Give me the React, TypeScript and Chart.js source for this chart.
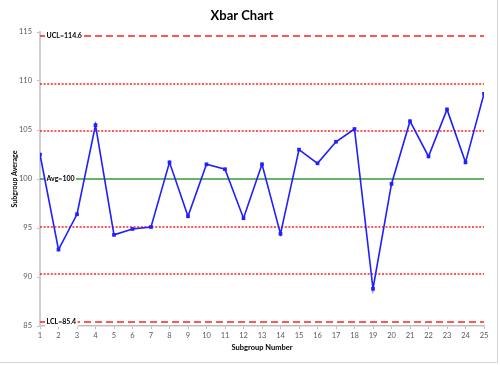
import React, { useEffect, useRef } from "react";
import { Chart, registerables } from "chart.js";

Chart.register(...registerables);

const subgroups = [1, 2, 3, 4, 5, 6, 7, 8, 9, 10, 11, 12, 13, 14, 15, 16, 17, 18, 19, 20, 21, 22, 23, 24, 25];
const averages = [102.5, 92.8, 96.4, 105.5, 94.3, 94.9, 95.1, 101.7, 96.2, 101.5, 101.0, 96.0, 101.5, 94.4, 103.0, 101.6, 103.8, 105.1, 88.8, 99.5, 105.9, 102.3, 107.1, 101.7, 108.7];

const limitValues = [114.6, 109.7, 104.9, 100, 95.1, 90.3, 85.4];
const limitKinds = ["limit", "sigma", "sigma", "center", "sigma", "sigma", "limit"];
const limitLabels = ["UCL=114.6", "", "", "Avg=100", "", "", "LCL=85.4"];

const yTicks = [85, 90, 95, 100, 105, 110, 115];

const FONT = "Lato, 'Open Sans', 'Liberation Sans', sans-serif";

export default function App() {
  const ref = useRef<HTMLCanvasElement | null>(null);

  useEffect(() => {
    document.body.style.margin = "0";
    const canvas = ref.current;
    if (!canvas) return;

    const limitDatasets = limitValues.map((v, i) => {
      const kind = limitKinds[i];
      return {
        label: limitLabels[i] || `limit${i}`,
        data: [
          { x: subgroups[0], y: v },
          { x: subgroups[subgroups.length - 1], y: v },
        ],
        borderColor: kind === "center" ? "#3a9a3a" : "#ff1f1f",
        borderWidth: kind === "center" ? 1.6 : 1.5,
        borderDash: kind === "limit" ? [7, 4] : kind === "sigma" ? [2, 1.6] : [],
        pointRadius: 0,
        fill: false,
      };
    });

    const labelPlugin = {
      id: "limitLabels",
      beforeDatasetDraw(chart: any, args: any) {
        if (args.index !== 0) return;
        const ctx = chart.ctx;
        const y = chart.scales.y;
        const left = chart.chartArea.left;
        ctx.save();
        ctx.font = `bold 7px ${FONT}`;
        ctx.textBaseline = "middle";
        ctx.textAlign = "left";
        limitValues.forEach((v, i) => {
          const t = limitLabels[i];
          if (!t) return;
          const py = y.getPixelForValue(v);
          const w = ctx.measureText(t).width;
          const x = left + 6.5;
          ctx.fillStyle = "#ffffff";
          ctx.fillRect(x - 1.5, py - 5, w + 3, 10);
          ctx.fillStyle = "#000000";
          ctx.fillText(t, x, py);
        });
        ctx.restore();
      },
    };

    const borderPlugin = {
      id: "outerBorder",
      afterDraw(chart: any) {
        const ctx = chart.ctx;
        ctx.save();
        ctx.strokeStyle = "#d4d4d4";
        ctx.lineWidth = 1;
        ctx.beginPath();
        ctx.moveTo(497.5, 0);
        ctx.lineTo(497.5, 362.5);
        ctx.lineTo(0, 362.5);
        ctx.stroke();
        ctx.restore();
      },
    };

    const chart = new Chart(canvas, {
      type: "line",
      data: {
        datasets: [
          {
            label: "Subgroup Average",
            data: subgroups.map((s, i) => ({ x: s, y: averages[i] })),
            borderColor: "#1f1fff",
            backgroundColor: "#1f1fff",
            borderWidth: 1.6,
            pointStyle: "rect",
            pointRadius: 2.6,
            pointBorderWidth: 0,
            fill: false,
            tension: 0,
          },
          ...limitDatasets,
        ] as any,
      },
      options: {
        animation: false,
        responsive: false,
        maintainAspectRatio: false,
        layout: { padding: { left: 0, right: 16, top: 0, bottom: 0 } },
        plugins: {
          legend: { display: false },
          tooltip: { enabled: false },
          title: {
            display: true,
            text: "Xbar Chart",
            color: "#000000",
            font: { family: FONT, size: 13, weight: "bold", lineHeight: 1.2 },
            padding: { top: 8, bottom: 8.4 },
          },
        },
        scales: {
          x: {
            type: "linear",
            min: 1,
            max: 25,
            afterFit(scale: any) {
              scale.height = 39;
            },
            ticks: {
              stepSize: 1,
              autoSkip: false,
              maxRotation: 0,
              color: "#595959",
              padding: 2,
              font: { family: FONT, size: 7.5 },
            },
            grid: {
              display: true,
              drawOnChartArea: false,
              drawTicks: true,
              tickLength: 3,
              color: "#bfbfbf",
            },
            border: { display: true, color: "#bfbfbf", width: 1.5 },
            title: {
              display: true,
              text: "Subgroup Number",
              color: "#000000",
              font: { family: FONT, size: 7.5, weight: "bold", lineHeight: 1.2 },
              padding: { top: 0, bottom: 12.5 },
            },
          },
          y: {
            type: "linear",
            min: 85,
            max: 115,
            afterFit(scale: any) {
              scale.width = 40;
            },
            afterBuildTicks(scale: any) {
              scale.ticks = yTicks.map((v) => ({ value: v }));
            },
            ticks: {
              color: "#595959",
              padding: 5,
              font: { family: FONT, size: 7.5 },
            },
            grid: {
              display: true,
              drawOnChartArea: false,
              drawTicks: true,
              tickLength: 3,
              color: "#bfbfbf",
            },
            border: { display: true, color: "#cfcfcf", width: 2 },
            title: {
              display: true,
              text: "Subgroup Average",
              color: "#000000",
              font: { family: FONT, size: 7, weight: "bold", lineHeight: 1.2 },
              padding: { top: 11, bottom: 0 },
            },
          },
        },
      },
      plugins: [labelPlugin, borderPlugin],
    } as any);

    return () => chart.destroy();
  }, []);

  return (
    <div style={{ position: "absolute", left: 0, top: 0, width: 500, height: 365, background: "#ffffff" }}>
      <canvas ref={ref} width={500} height={365} style={{ width: 500, height: 365, display: "block" }} />
    </div>
  );
}
